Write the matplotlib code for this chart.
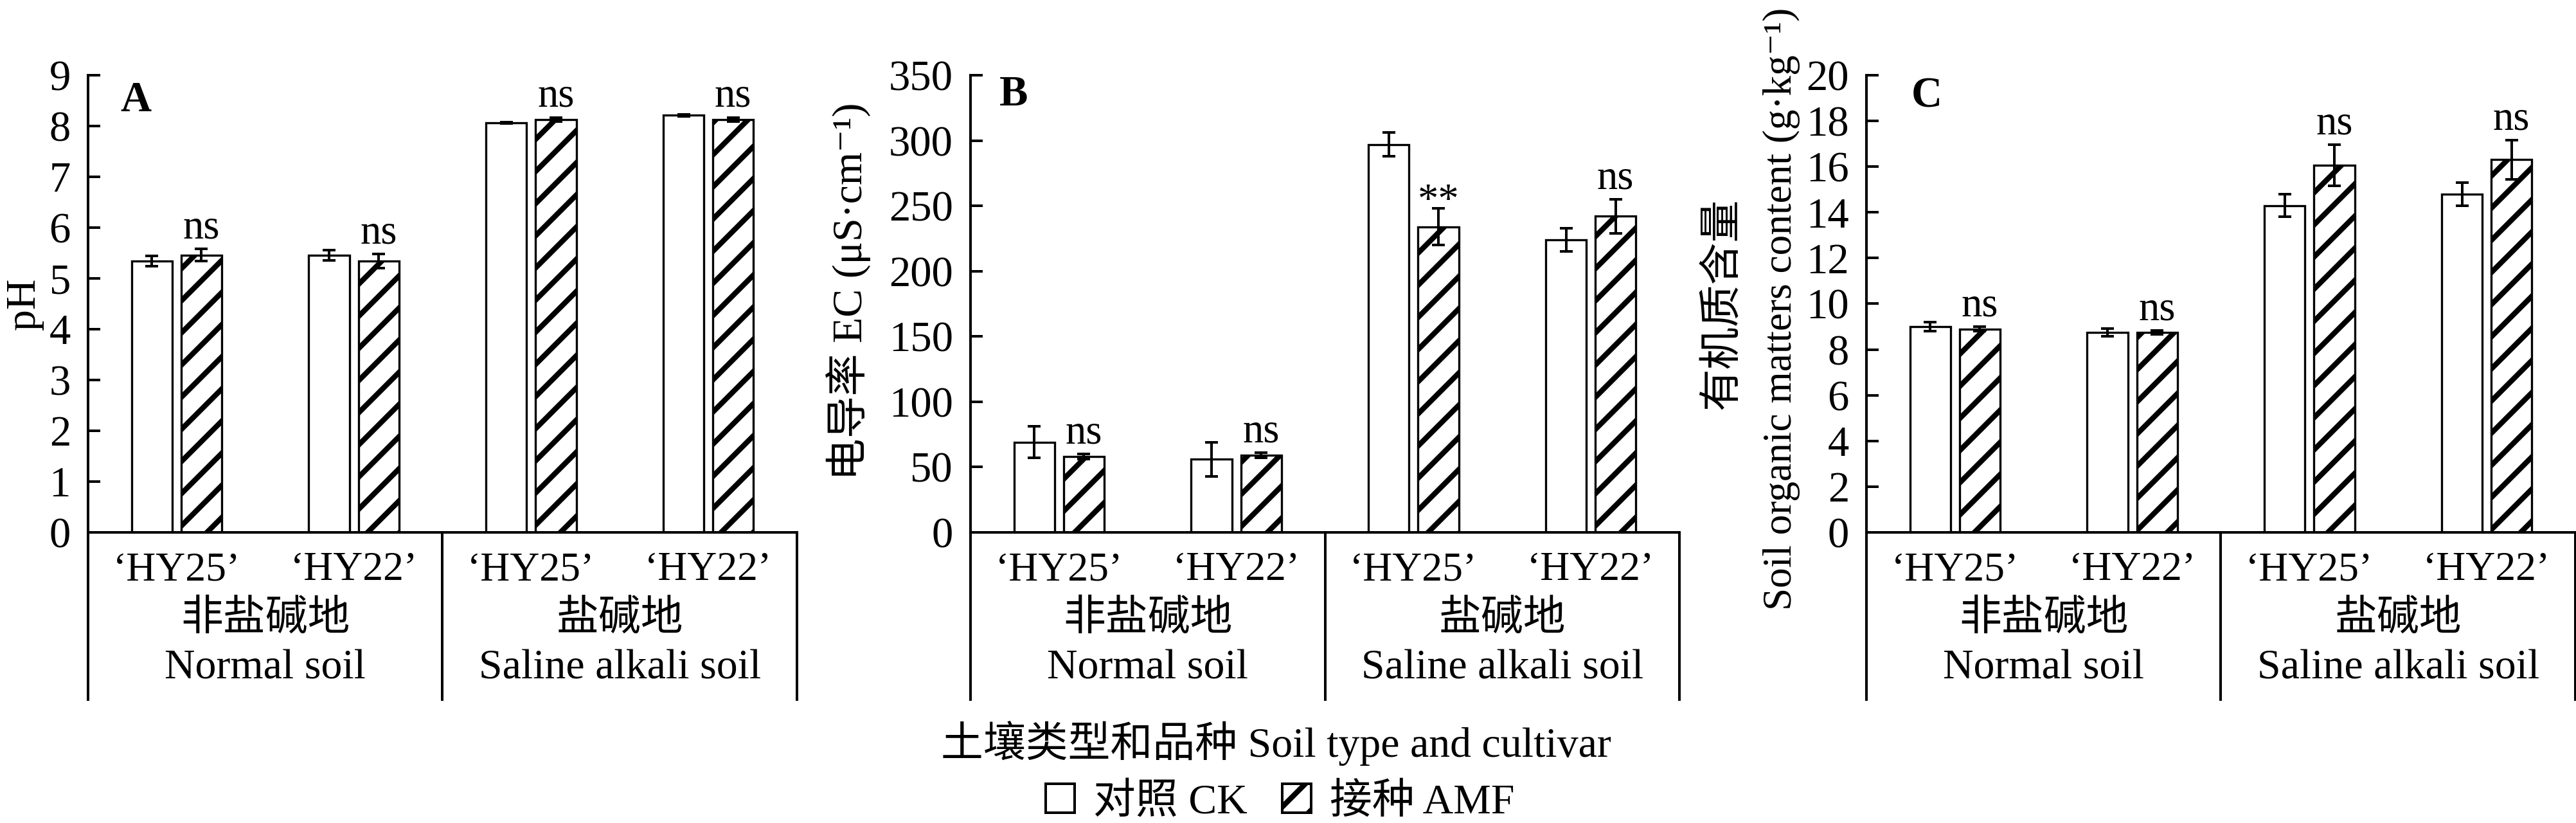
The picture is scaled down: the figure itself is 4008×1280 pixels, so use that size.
import numpy as np
import matplotlib
matplotlib.use("Agg")
import matplotlib.pyplot as plt
from matplotlib.patches import Patch
from matplotlib.lines import Line2D
import matplotlib.transforms as mtransforms

plt.rcParams['font.family'] = ['Liberation Serif', 'Noto Sans CJK SC', 'DejaVu Sans']
plt.rcParams['mathtext.fontset'] = 'stix'
plt.rcParams['hatch.linewidth'] = 2.0
plt.rcParams['hatch.color'] = 'black'

# ---------------- data ----------------
cultivars = ["‘HY25’", "‘HY22’", "‘HY25’", "‘HY22’"]
soil_cn = ["非盐碱地", "盐碱地"]
soil_en = ["Normal soil", "Saline alkali soil"]

ph_ck = [5.34, 5.46, 8.06, 8.21]
ph_ck_err = [0.10, 0.10, 0.01, 0.02]
ph_amf = [5.46, 5.34, 8.13, 8.13]
ph_amf_err = [0.12, 0.14, 0.04, 0.04]
ph_sig = ["ns", "ns", "ns", "ns"]

ec_ck = [69, 56, 297, 224]
ec_ck_err = [12, 13, 9, 9]
ec_amf = [58, 59, 234, 242]
ec_amf_err = [2, 2, 14, 13]
ec_sig = ["ns", "ns", "**", "ns"]

om_ck = [9.0, 8.75, 14.3, 14.8]
om_ck_err = [0.2, 0.18, 0.5, 0.5]
om_amf = [8.9, 8.75, 16.05, 16.3]
om_amf_err = [0.1, 0.08, 0.9, 0.85]
om_sig = ["ns", "ns", "ns", "ns"]

panels = [
    dict(letter="A", ck=ph_ck, ck_err=ph_ck_err, amf=ph_amf, amf_err=ph_amf_err,
         sig=ph_sig, ymax=9, step=1, letter_xy=(0.046, 0.944)),
    dict(letter="B", ck=ec_ck, ck_err=ec_ck_err, amf=ec_amf, amf_err=ec_amf_err,
         sig=ec_sig, ymax=350, step=50, letter_xy=(0.041, 0.957)),
    dict(letter="C", ck=om_ck, ck_err=om_ck_err, amf=om_amf, amf_err=om_amf_err,
         sig=om_sig, ymax=20, step=2, letter_xy=(0.063, 0.954)),
]

# ---------------- figure ----------------
DPI = 300
fig = plt.figure(figsize=(4008 / DPI, 1280 / DPI), dpi=DPI)

lefts = [0.03418, 0.37675, 0.72455]
ax_w, ax_b, ax_h = 0.2752, 0.35313, 0.5555
box_bottom = -0.3657  # axes coords

FS = 15.8
LW = 0.96
x = np.arange(4)
bw = 0.23
off = 0.14

for p, left in zip(panels, lefts):
    ax = fig.add_axes([left, ax_b, ax_w, ax_h])
    ax.bar(x - off, p["ck"], bw, color="white", edgecolor="black", linewidth=0.8, zorder=2)
    ax.bar(x + off, p["amf"], bw, color="white", edgecolor="black", linewidth=0.8,
           hatch="//", zorder=2)
    ax.errorbar(x - off, p["ck"], yerr=p["ck_err"], fmt="none", ecolor="black",
                elinewidth=LW, capsize=2.4, capthick=LW, zorder=3)
    ax.errorbar(x + off, p["amf"], yerr=p["amf_err"], fmt="none", ecolor="black",
                elinewidth=LW, capsize=2.4, capthick=LW, zorder=3)
    for xi, v, e, s in zip(x, p["amf"], p["amf_err"], p["sig"]):
        dy = -1.5 if s == "**" else 4.0
        ax.annotate(s, (xi + off, v + e), xytext=(0, dy), textcoords="offset points",
                    ha="center", va="baseline", fontsize=15.5)
    ax.set_xlim(-0.5, 3.5)
    ax.set_ylim(0, p["ymax"])
    ax.set_yticks(np.arange(0, p["ymax"] + p["step"] / 2, p["step"]))
    ax.set_xticks([])
    ax.tick_params(axis="y", direction="in", length=4.56, width=LW, pad=6.5, labelsize=16)
    for side in ["top", "right"]:
        ax.spines[side].set_visible(False)
    for side in ["left", "bottom"]:
        ax.spines[side].set_linewidth(LW)
    # box below the axis
    for xa in [0.0, 0.5, 1.0]:
        ax.add_line(Line2D([xa, xa], [0, box_bottom], transform=ax.transAxes,
                           color="black", linewidth=LW, clip_on=False,
                           solid_capstyle="projecting"))
    trans = mtransforms.blended_transform_factory(ax.transData, ax.transAxes)
    for xi, c in zip(x, cultivars):
        ax.text(xi, -0.1041, c, transform=trans, ha="center", va="baseline", fontsize=15.3)
    for gx, cn, en in zip([0.5, 2.5], soil_cn, soil_en):
        ax.text(gx, -0.2138, cn, transform=trans, ha="center", va="baseline", fontsize=FS)
        ax.text(gx, -0.3193, en, transform=trans, ha="center", va="baseline", fontsize=FS)
    ax.text(p["letter_xy"][0], p["letter_xy"][1], p["letter"], transform=ax.transAxes,
            ha="left", va="center", fontsize=16, fontweight="bold")

# y labels
yc = ax_b + ax_h / 2
fig.text(0.0095, yc, "pH", rotation=90, ha="center", va="center", fontsize=FS)
fig.text(0.3293, yc + 0.015, "电导率 EC (μS·cm⁻¹)", rotation=90, ha="center",
         va="center", fontsize=FS)
fig.text(0.6689, yc, "有机质含量", rotation=90, ha="center", va="center", fontsize=FS)
fig.text(0.6916, yc - 0.006, "Soil organic matters content (g·kg⁻¹)", rotation=90,
         ha="center", va="center", fontsize=15.2)

# common x label
fig.text(0.4953, 0.0805, "土壤类型和品种 Soil type and cultivar", ha="center",
         va="baseline", fontsize=FS)

# legend
handles = [Patch(facecolor="white", edgecolor="black", linewidth=LW),
           Patch(facecolor="white", edgecolor="black", linewidth=LW, hatch="//")]
fig.legend(handles, ["对照 CK", "接种 AMF"], loc="center", bbox_to_anchor=(0.497, 0.025),
           ncol=2, frameon=False, fontsize=FS, handlelength=0.68, handleheight=0.68,
           handletextpad=0.45, columnspacing=0.82, borderaxespad=0, borderpad=0)

fig.savefig("out.png", dpi=DPI, facecolor="white")
